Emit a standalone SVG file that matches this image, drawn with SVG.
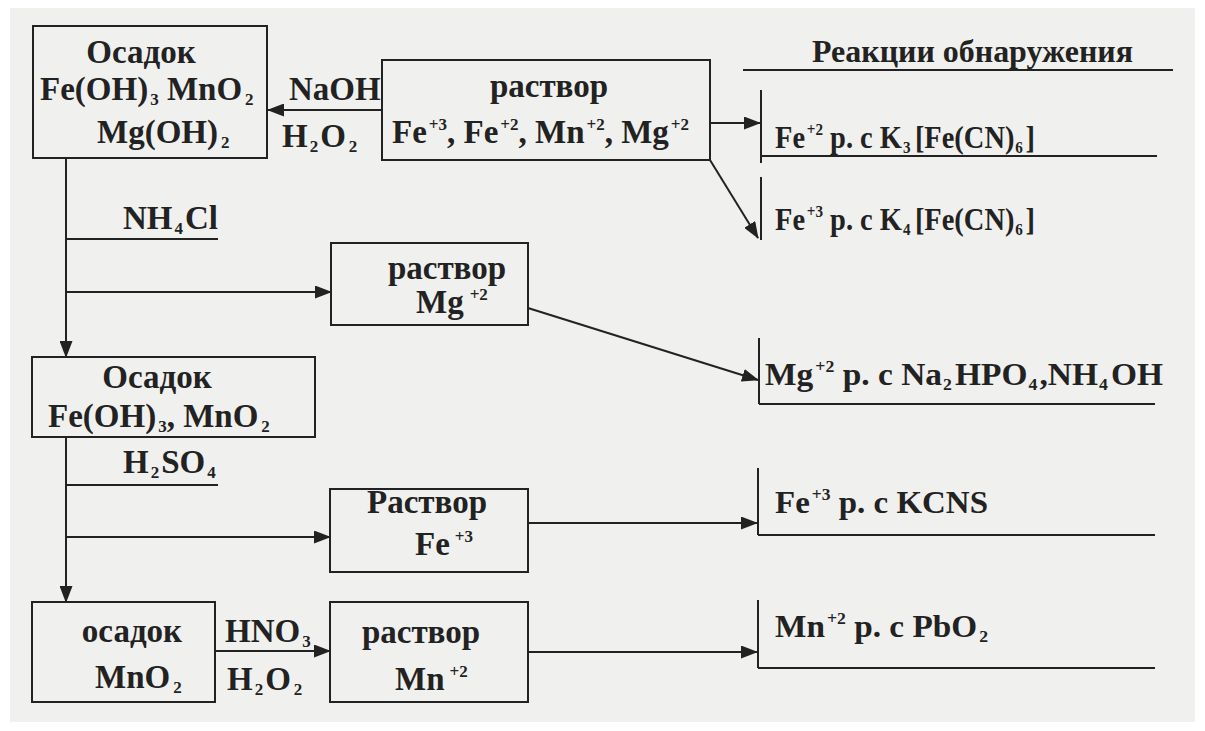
<svg xmlns="http://www.w3.org/2000/svg" width="1205" height="731" viewBox="0 0 1205 731">
<style>
.t{font-family:"Liberation Serif","Times New Roman",serif;font-weight:bold;font-size:33px;fill:#222}
.r{font-size:32px}
.s{font-size:17px}
.box{fill:none;stroke:#222;stroke-width:2}
.ln{stroke:#222;stroke-width:2;fill:none}
.arr{marker-end:url(#ah)}
</style>
<defs>
<marker id="ah" markerUnits="userSpaceOnUse" markerWidth="17" markerHeight="13" refX="16" refY="6.5" orient="auto"><path d="M0,0 L17,6.5 L0,13 z" fill="#222"/></marker>
</defs>
<rect x="0" y="0" width="1205" height="731" fill="#ffffff"/>
<rect x="10" y="8" width="1185" height="714" fill="#f0f0ee"/>

<g id="connectors">
<line class="ln arr" x1="382" y1="110" x2="268" y2="110"/>
<line class="ln arr" x1="66" y1="158" x2="66" y2="357"/>
<line class="ln" x1="66" y1="239" x2="218" y2="239"/>
<line class="ln arr" x1="66" y1="292" x2="331" y2="292"/>
<line class="ln arr" x1="66" y1="437" x2="66" y2="602"/>
<line class="ln" x1="66" y1="485" x2="218" y2="485"/>
<line class="ln arr" x1="66" y1="537" x2="330" y2="537"/>
<line class="ln arr" x1="215" y1="651" x2="330" y2="651"/>
<line class="ln arr" x1="710" y1="123" x2="760" y2="123"/>
<line class="ln arr" x1="710" y1="160" x2="758" y2="238"/>
<line class="ln arr" x1="528" y1="308" x2="758" y2="380"/>
<line class="ln arr" x1="528" y1="523" x2="757" y2="523"/>
<line class="ln arr" x1="528" y1="652" x2="757" y2="652"/>
<text class="t" x="289" y="100">NaOH</text>
<text class="t" x="282" y="147">H<tspan class="s" dx="2" dy="5">2</tspan><tspan dx="2" dy="-5">O</tspan><tspan class="s" dx="3" dy="5">2</tspan></text>
<text class="t" x="123" y="229">NH<tspan class="s" dx="2" dy="5">4</tspan><tspan dx="2" dy="-5">Cl</tspan></text>
<text class="t" x="123" y="473">H<tspan class="s" dx="2" dy="5">2</tspan><tspan dx="2" dy="-5">SO</tspan><tspan class="s" dx="2" dy="5">4</tspan></text>
<text class="t" x="225" y="642">HNO<tspan class="s" dx="2" dy="5">3</tspan></text>
<text class="t" x="227" y="690">H<tspan class="s" dx="2" dy="5">2</tspan><tspan dx="2" dy="-5">O</tspan><tspan class="s" dx="3" dy="5">2</tspan></text>
</g>

<g id="osadok1">
<rect class="box" x="33" y="26" width="234" height="132"/>
<text class="t" x="141" y="63" text-anchor="middle">Осадок</text>
<text class="t" x="40" y="100">Fe(OH)<tspan class="s" dx="2" dy="5">3</tspan><tspan dy="-5"> MnO</tspan><tspan class="s" dx="3" dy="5">2</tspan></text>
<text class="t" x="97" y="143">Mg(OH)<tspan class="s" dx="3" dy="5">2</tspan></text>
</g>

<g id="rastvor1">
<rect class="box" x="382" y="60" width="328" height="100"/>
<text class="t" x="549" y="97" text-anchor="middle">раствор</text>
<text class="t" x="392" y="143">Fe<tspan class="s" dx="2" dy="-13">+3</tspan><tspan dy="13">, Fe</tspan><tspan class="s" dx="2" dy="-13">+2</tspan><tspan dy="13">, Mn</tspan><tspan class="s" dx="2" dy="-13">+2</tspan><tspan dy="13">, Mg</tspan><tspan class="s" dx="2" dy="-13">+2</tspan></text>
</g>

<g id="reactions">
<text class="t r" x="812" y="62" textLength="321" lengthAdjust="spacingAndGlyphs">Реакции обнаружения</text>
<line class="ln" x1="743" y1="70" x2="1173" y2="70"/>
</g>

<g id="r-fe2">
<line class="ln" x1="761" y1="90" x2="761" y2="163"/>
<line class="ln" x1="761" y1="156" x2="1157" y2="156"/>
<text class="t r" x="775" y="148" textLength="260" lengthAdjust="spacingAndGlyphs">Fe<tspan class="s" dx="2" dy="-13">+2</tspan><tspan dy="13"> р. с K</tspan><tspan class="s" dx="1" dy="5">3</tspan><tspan dx="5" dy="-5">[Fe(CN)</tspan><tspan class="s" dx="1" dy="5">6</tspan><tspan dx="3" dy="-5">]</tspan></text>
</g>

<g id="r-fe3a">
<line class="ln" x1="761" y1="177" x2="761" y2="240"/>
<text class="t r" x="775" y="230" textLength="260" lengthAdjust="spacingAndGlyphs">Fe<tspan class="s" dx="2" dy="-13">+3</tspan><tspan dy="13"> р. с K</tspan><tspan class="s" dx="1" dy="5">4</tspan><tspan dx="5" dy="-5">[Fe(CN)</tspan><tspan class="s" dx="1" dy="5">6</tspan><tspan dx="3" dy="-5">]</tspan></text>
</g>

<g id="rastvor-mg">
<rect class="box" x="331" y="243" width="197" height="82"/>
<text class="t" x="447" y="279" text-anchor="middle">раствор</text>
<text class="t" x="416" y="313">Mg<tspan class="s" dx="6" dy="-13">+2</tspan></text>
</g>

<g id="r-mg">
<line class="ln" x1="759" y1="338" x2="759" y2="404"/>
<line class="ln" x1="759" y1="404" x2="1155" y2="404"/>
<text class="t r" x="765" y="385" textLength="398" lengthAdjust="spacingAndGlyphs">Mg<tspan class="s" dx="2" dy="-13">+2</tspan><tspan dy="13"> р. с Na</tspan><tspan class="s" dx="1" dy="5">2</tspan><tspan dx="3" dy="-5">HPO</tspan><tspan class="s" dx="1" dy="5">4</tspan><tspan dx="2" dy="-5">,NH</tspan><tspan class="s" dx="1" dy="5">4</tspan><tspan dx="3" dy="-5">OH</tspan></text>
</g>

<g id="osadok2">
<rect class="box" x="32" y="357" width="283" height="80"/>
<text class="t" x="157" y="388" text-anchor="middle">Осадок</text>
<text class="t" x="48" y="427">Fe(OH)<tspan class="s" dx="2" dy="5">3</tspan><tspan dy="-5">, MnO</tspan><tspan class="s" dx="3" dy="5">2</tspan></text>
</g>

<g id="rastvor-fe3">
<rect class="box" x="330" y="489" width="198" height="83"/>
<text class="t" x="427" y="513" text-anchor="middle">Раствор</text>
<text class="t" x="415" y="555">Fe<tspan class="s" dx="5" dy="-13">+3</tspan></text>
</g>

<g id="r-fe3b">
<line class="ln" x1="758" y1="468" x2="758" y2="535"/>
<line class="ln" x1="758" y1="535" x2="1155" y2="535"/>
<text class="t r" x="775" y="513" textLength="213" lengthAdjust="spacingAndGlyphs">Fe<tspan class="s" dx="2" dy="-13">+3</tspan><tspan dy="13"> р. с KCNS</tspan></text>
</g>

<g id="osadok3">
<rect class="box" x="32" y="602" width="183" height="100"/>
<text class="t" x="132" y="642" text-anchor="middle">осадок</text>
<text class="t" x="95" y="688">MnO<tspan class="s" dx="3" dy="5">2</tspan></text>
</g>

<g id="rastvor-mn">
<rect class="box" x="330" y="602" width="198" height="100"/>
<text class="t" x="421" y="643" text-anchor="middle">раствор</text>
<text class="t" x="395" y="690">Mn<tspan class="s" dx="5" dy="-13">+2</tspan></text>
</g>

<g id="r-mn">
<line class="ln" x1="758" y1="600" x2="758" y2="668"/>
<line class="ln" x1="758" y1="668" x2="1155" y2="668"/>
<text class="t r" x="775" y="637" textLength="213" lengthAdjust="spacingAndGlyphs">Mn<tspan class="s" dx="2" dy="-13">+2</tspan><tspan dy="13"> р. с PbO</tspan><tspan class="s" dx="2" dy="5">2</tspan></text>
</g>
</svg>
